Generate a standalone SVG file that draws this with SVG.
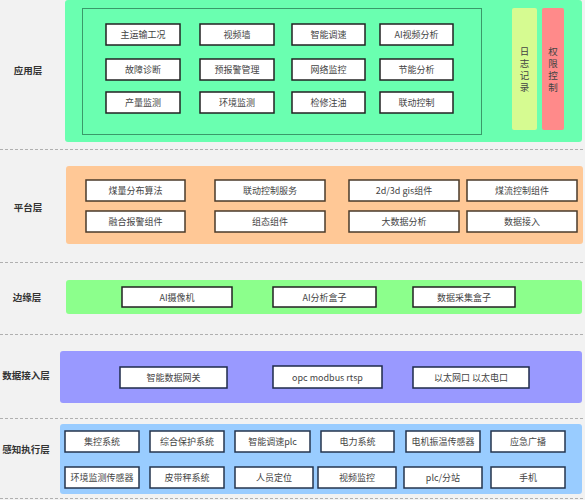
<svg xmlns="http://www.w3.org/2000/svg" width="585" height="500" viewBox="0 0 585 500">
<style>
.bg{fill:#f2f2f2}
.sep{stroke:#b0b0b0;stroke-width:1;stroke-dasharray:3,2;fill:none}
.lbl{font-family:"Noto Sans CJK SC","Liberation Sans",sans-serif;font-size:9.5px;font-weight:bold;fill:#333;text-anchor:middle;dominant-baseline:central}
.t{font-family:"Noto Sans CJK SC","Liberation Sans",sans-serif;font-size:9px;fill:#444;text-anchor:middle;dominant-baseline:central}
.v{font-family:"Noto Sans CJK SC","Liberation Sans",sans-serif;font-size:9.5px;fill:#444;text-anchor:middle;writing-mode:vertical-rl;letter-spacing:2.5px}
.b{fill:#fff;stroke-width:1.5}
.ba{stroke:#222}
.bp{stroke:#4a3a2a}
.be{stroke:#222}
.bd{stroke:#1e2a4a}
.bs{stroke:#24344e}
</style>
<rect class="bg" x="0" y="0" width="585" height="500"/>
<g id="separators">
<line class="sep" x1="0" y1="149.5" x2="585" y2="149.5"/>
<line class="sep" x1="0" y1="262.5" x2="585" y2="262.5"/>
<line class="sep" x1="0" y1="334.5" x2="585" y2="334.5"/>
<line class="sep" x1="0" y1="418.5" x2="585" y2="418.5"/>
<line class="sep" x1="0" y1="498.5" x2="585" y2="498.5"/>
</g>
<g id="layer-app">
<rect x="65" y="0" width="517" height="142" rx="3" fill="#6affb0"/>
<rect x="82.5" y="8.5" width="399" height="126" fill="none" stroke="#3a9a6a" stroke-width="1"/>
<text class="lbl" x="28" y="70">应用层</text>
<g id="app-1"><rect class="b ba" x="106" y="24" width="74" height="21"/><text class="t" x="143" y="34.5">主运输工况</text></g>
<g id="app-2"><rect class="b ba" x="200" y="24" width="74" height="21"/><text class="t" x="237" y="34.5">视频墙</text></g>
<g id="app-3"><rect class="b ba" x="292" y="24" width="73" height="21"/><text class="t" x="328.5" y="34.5">智能调速</text></g>
<g id="app-4"><rect class="b ba" x="380" y="24" width="73" height="21"/><text class="t" x="416.5" y="34.5">AI视频分析</text></g>
<g id="app-5"><rect class="b ba" x="106" y="59" width="74" height="21"/><text class="t" x="143" y="69.5">故障诊断</text></g>
<g id="app-6"><rect class="b ba" x="200" y="59" width="74" height="21"/><text class="t" x="237" y="69.5">预报警管理</text></g>
<g id="app-7"><rect class="b ba" x="292" y="59" width="73" height="21"/><text class="t" x="328.5" y="69.5">网络监控</text></g>
<g id="app-8"><rect class="b ba" x="380" y="59" width="73" height="21"/><text class="t" x="416.5" y="69.5">节能分析</text></g>
<g id="app-9"><rect class="b ba" x="106" y="92" width="74" height="21"/><text class="t" x="143" y="102.5">产量监测</text></g>
<g id="app-10"><rect class="b ba" x="200" y="92" width="74" height="21"/><text class="t" x="237" y="102.5">环境监测</text></g>
<g id="app-11"><rect class="b ba" x="292" y="92" width="73" height="21"/><text class="t" x="328.5" y="102.5">检修注油</text></g>
<g id="app-12"><rect class="b ba" x="380" y="92" width="73" height="21"/><text class="t" x="416.5" y="102.5">联动控制</text></g>
<g id="app-log"><rect x="512" y="8" width="25" height="122" rx="2" fill="#d6fb91"/>
<text class="v" x="524.5" y="71">日志记录</text></g>
<g id="app-auth"><rect x="542" y="8" width="22" height="122" rx="2" fill="#ff8a8a"/>
<text class="v" x="553" y="71">权限控制</text></g>
</g>
<g id="layer-platform">
<rect x="66" y="166" width="517" height="78" rx="3" fill="#ffc896"/>
<text class="lbl" x="28" y="207">平台层</text>
<g id="plat-1"><rect class="b bp" x="86" y="180" width="99" height="21"/><text class="t" x="135.5" y="190.5">煤量分布算法</text></g>
<g id="plat-2"><rect class="b bp" x="215" y="180" width="110" height="21"/><text class="t" x="270" y="190.5">联动控制服务</text></g>
<g id="plat-3"><rect class="b bp" x="349" y="180" width="110" height="21"/><text class="t" x="404" y="190.5">2d/3d gis组件</text></g>
<g id="plat-4"><rect class="b bp" x="467" y="180" width="110" height="21"/><text class="t" x="522" y="190.5">煤流控制组件</text></g>
<g id="plat-5"><rect class="b bp" x="86" y="211" width="99" height="21"/><text class="t" x="135.5" y="221.5">融合报警组件</text></g>
<g id="plat-6"><rect class="b bp" x="215" y="211" width="110" height="21"/><text class="t" x="270" y="221.5">组态组件</text></g>
<g id="plat-7"><rect class="b bp" x="349" y="211" width="110" height="21"/><text class="t" x="404" y="221.5">大数据分析</text></g>
<g id="plat-8"><rect class="b bp" x="467" y="211" width="110" height="21"/><text class="t" x="522" y="221.5">数据接入</text></g>
</g>
<g id="layer-edge">
<rect x="66" y="280" width="516" height="34" rx="3" fill="#8cff8c"/>
<text class="lbl" x="27" y="297">边缘层</text>
<g id="edge-1"><rect class="b be" x="122" y="287" width="110" height="20"/><text class="t" x="177" y="297">AI摄像机</text></g>
<g id="edge-2"><rect class="b be" x="273" y="287" width="103" height="20"/><text class="t" x="324.5" y="297">AI分析盒子</text></g>
<g id="edge-3"><rect class="b be" x="413" y="287" width="102" height="20"/><text class="t" x="464" y="297">数据采集盒子</text></g>
</g>
<g id="layer-data">
<rect x="60" y="351" width="522" height="52" rx="3" fill="#9999ff"/>
<text class="lbl" x="26" y="375">数据接入层</text>
<g id="data-1"><rect class="b bd" x="120" y="367" width="107" height="21"/><text class="t" x="173.5" y="377.5">智能数据网关</text></g>
<g id="data-2"><rect class="b bd" x="273" y="366" width="109" height="22"/><text class="t" x="327.5" y="377">opc modbus  rtsp</text></g>
<g id="data-3"><rect class="b bd" x="413" y="367" width="116" height="21"/><text class="t" x="471" y="377.5">以太网口 以太电口</text></g>
</g>
<g id="layer-sense">
<rect x="60" y="424" width="522" height="70" rx="3" fill="#99ccff"/>
<text class="lbl" x="26" y="449">感知执行层</text>
<g id="s-1"><rect class="b bs" x="65" y="431" width="74" height="21"/><text class="t" x="102" y="441.5">集控系统</text></g>
<g id="s-2"><rect class="b bs" x="150" y="431" width="74" height="21"/><text class="t" x="187" y="441.5">综合保护系统</text></g>
<g id="s-3"><rect class="b bs" x="235" y="431" width="75" height="21"/><text class="t" x="272.5" y="441.5">智能调速plc</text></g>
<g id="s-4"><rect class="b bs" x="321" y="431" width="73" height="21"/><text class="t" x="357.5" y="441.5">电力系统</text></g>
<g id="s-5"><rect class="b bs" x="406" y="431" width="74" height="21"/><text class="t" x="443" y="441.5">电机振温传感器</text></g>
<g id="s-6"><rect class="b bs" x="491" y="431" width="74" height="21"/><text class="t" x="528" y="441.5">应急广播</text></g>
<g id="s-7"><rect class="b bs" x="65" y="467" width="74" height="21"/><text class="t" x="102" y="477.5">环境监测传感器</text></g>
<g id="s-8"><rect class="b bs" x="150" y="467" width="74" height="21"/><text class="t" x="187" y="477.5">皮带秤系统</text></g>
<g id="s-9"><rect class="b bs" x="235" y="467" width="78" height="21"/><text class="t" x="274" y="477.5">人员定位</text></g>
<g id="s-10"><rect class="b bs" x="318" y="467" width="78" height="21"/><text class="t" x="357" y="477.5">视频监控</text></g>
<g id="s-11"><rect class="b bs" x="404" y="467" width="78" height="21"/><text class="t" x="443" y="477.5">plc/分站</text></g>
<g id="s-12"><rect class="b bs" x="491" y="467" width="74" height="21"/><text class="t" x="528" y="477.5">手机</text></g>
</g>
<g id="connectors"></g>
</svg>
